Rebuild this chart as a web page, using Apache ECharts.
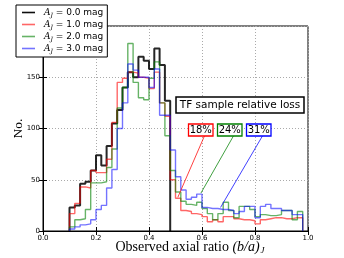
<!DOCTYPE html>
<html><head><meta charset="utf-8">
<script src="https://cdn.jsdelivr.net/npm/echarts@6/dist/echarts.min.js"></script>
<style>html,body{margin:0;padding:0;background:#fff}#c{width:344px;height:258px}</style>
</head><body><div id="c"></div>
<script>
// ---- data ----
const BIN_START = 0.10;
const BIN_WIDTH = 0.02;
const xTickValues = [0.0, 0.2, 0.4, 0.6, 0.8, 1.0];
const yTickValues = [0, 50, 100, 150, 200];
const extinctionLabels = ['0.0', '1.0', '2.0', '3.0'];
const countsA0 = [23, 25, 46, 48, 59, 74, 64, 83, 105, 118, 140, 155, 150, 170, 166, 158, 178, 162, 127];
const countsA1 = [17, 27, 43, 42, 59, 57, 57, 70, 106, 145, 149, 155, 154, 150, 149, 139, 155, 125, 112,
                  50, 32, 20, 19, 17, 16, 14, 9, 11, 9, 14, 14, 12, 11, 11, 10, 7, 11, 12, 13, 13, 12, 12, 13, 13];
const countsA2 = [4, 11, 12, 21, 47, 47, 48, 62, 80, 120, 140, 183, 145, 130, 128, 149, 165, 125, 93,
                  59, 38, 29, 26, 25, 28, 22, 17, 11, 17, 28, 20, 13, 24, 24, 21, 14, 16, 15, 15, 16, 20, 20, 11, 19];
const countsA3 = [2, 4, 6, 7, 11, 21, 25, 42, 60, 100, 125, 163, 157, 150, 150, 140, 158, 113, 113,
                  79, 53, 40, 31, 33, 36, 23, 22, 22, 21, 21, 20, 17, 19, 24, 24, 13, 24, 26, 22, 22, 20, 20, 16, 16];
const lossTitle = 'TF sample relative loss';
const lossLabels = ['18%', '24%', '31%'];
const lossTips = [[0.509, 33], [0.596, 37], [0.670, 23]];

// ---- build ----
function stepData(counts) {
  const pts = [[BIN_START, 0]];
  counts.forEach((c, i) => pts.push([+(BIN_START + i * BIN_WIDTH).toFixed(4), c]));
  pts.push([+(BIN_START + counts.length * BIN_WIDTH).toFixed(4), 0]);
  return pts;
}
const allCounts = [countsA0, countsA1, countsA2, countsA3];
const colors = ['#000000', '#ff0000', '#008000', '#0000ff'];
const widths = [2, 1.4, 1.4, 1.4];
const opac = [0.85, 0.6, 0.6, 0.55];

const chart = echarts.init(document.getElementById('c'));
const gridL = 43, gridT = 26, gridR = 36, gridB = 27;

const series = allCounts.map((cnt, k) => ({
  name: extinctionLabels[k], type: 'line', step: 'end', symbol: 'none',
  data: stepData(cnt), xAxisIndex: 0, yAxisIndex: 0,
  color: colors[k],
  itemStyle: { color: colors[k] },
  lineStyle: { color: colors[k], width: widths[k], opacity: opac[k] },
  z: 3 + k, animation: false, silent: true
}));

const axisFont = { fontFamily: 'DejaVu Sans', fontSize: 7, color: '#000' };
chart.setOption({
  animation: false,
  grid: { left: gridL, top: gridT, right: gridR, bottom: gridB, outerBoundsMode: 'none', containLabel: false,
          show: true, borderColor: '#000', borderWidth: 1, backgroundColor: 'transparent' },
  xAxis: [{
    type: 'value', min: 0, max: 1, interval: 0.2, position: 'bottom',
    axisLine: { show: true, lineStyle: { color: '#000', width: 1 } },
    axisTick: { inside: true, length: 4, lineStyle: { color: '#000' } },
    axisLabel: Object.assign({ margin: 4, formatter: v => v.toFixed(1) }, axisFont),
    splitLine: { show: true, lineStyle: { color: '#aaaaaa', type: [1, 2], width: 1 } },
    name: '{t|Observed axial ratio }{i|(b/a)}{s|J}', nameLocation: 'middle', nameGap: 9, nameMoveOverlap: false,
    nameTextStyle: { padding: [0, 0, 0, 29], verticalAlign: 'top', rich: {
      t: { fontFamily: 'Liberation Serif', fontSize: 14, color: '#000' },
      i: { fontFamily: 'Liberation Serif', fontStyle: 'italic', fontSize: 14, color: '#000' },
      s: { fontFamily: 'Liberation Serif', fontStyle: 'italic', fontSize: 9, color: '#000', padding: [6, 0, 0, 1] }
    } }
  }, {
    type: 'value', min: 0, max: 1, interval: 0.2, position: 'top',
    axisLine: { show: true, lineStyle: { color: '#000' } },
    axisTick: { inside: true, length: 4, lineStyle: { color: '#000' } },
    axisLabel: { show: false }, splitLine: { show: false }
  }],
  yAxis: [{
    type: 'value', min: 0, max: 200, interval: 50, position: 'left',
    axisLine: { show: true, lineStyle: { color: '#000' } },
    axisTick: { inside: true, length: 4, lineStyle: { color: '#000' } },
    axisLabel: Object.assign({ margin: 3 }, axisFont),
    splitLine: { show: true, lineStyle: { color: '#aaaaaa', type: [1, 2], width: 1 } },
    name: 'No.', nameLocation: 'middle', nameGap: 18, nameRotate: 90, nameMoveOverlap: false,
    nameTextStyle: { fontFamily: 'Liberation Serif', fontSize: 13.5, color: '#000' }
  }, {
    type: 'value', min: 0, max: 200, interval: 50, position: 'right',
    axisLine: { show: true, lineStyle: { color: '#000' } },
    axisTick: { inside: true, length: 4, lineStyle: { color: '#000' } },
    axisLabel: { show: false }, splitLine: { show: false }
  }],
  legend: {
    data: extinctionLabels.map((n, k) => ({ name: n, itemStyle: { color: colors[k], opacity: k === 0 ? 0.95 : opac[k] } })),
    orient: 'vertical', left: 16, top: 5, icon: 'rect',
    padding: [3, 4, 3, 6], itemGap: 2, itemWidth: 13, itemHeight: 1.6,
    borderColor: '#000', borderWidth: 1, backgroundColor: '#fff', z: 20,
    selectedMode: false,
    formatter: n => '{i|A}{s|J}{t| = ' + n + ' mag}',
    textStyle: { padding: [0, 0, 0, 4], rich: {
      i: { fontFamily: 'DejaVu Serif', fontStyle: 'italic', fontSize: 9, color: '#000' },
      s: { fontFamily: 'DejaVu Serif', fontStyle: 'italic', fontSize: 6, color: '#000', padding: [5, 0, 0, 0] },
      t: { fontFamily: 'DejaVu Sans', fontSize: 9, color: '#000' }
    } }
  },
  series: series
});

// ---- annotations ----
const boxY = 124, boxH = 12;
const boxX = [188.5, 217.5, 246.5], boxW = 24.5;
const g = [];
g.push({ type: 'rect', shape: { x: 176, y: 97, width: 128, height: 16 }, style: { fill: '#fff', stroke: '#000', lineWidth: 1.5 }, z: 30 });
g.push({ type: 'text', x: 240, y: 105.5, style: { text: lossTitle, fontFamily: 'DejaVu Sans', fontSize: 10.5, fill: '#000', align: 'center', verticalAlign: 'middle' }, z: 31 });
lossLabels.forEach((lab, k) => {
  const tip = chart.convertToPixel({ xAxisIndex: 0, yAxisIndex: 0 }, lossTips[k]);
  const sx = boxX[k] + boxW * 0.65, sy = boxY + boxH;
  g.push({ type: 'line', shape: { x1: sx, y1: sy, x2: tip[0], y2: tip[1] }, style: { stroke: colors[k + 1], lineWidth: 1, opacity: 0.75 }, z: 29 });
  g.push({ type: 'rect', shape: { x: boxX[k], y: boxY, width: boxW, height: boxH }, style: { fill: '#fff', stroke: colors[k + 1], lineWidth: 1.3 }, z: 30 });
  g.push({ type: 'text', x: boxX[k] + boxW / 2, y: boxY + boxH / 2 + 0.5, style: { text: lab, fontFamily: 'DejaVu Sans', fontSize: 10, fill: '#000', align: 'center', verticalAlign: 'middle' }, z: 31 });
});
chart.setOption({ graphic: g });
</script></body></html>
